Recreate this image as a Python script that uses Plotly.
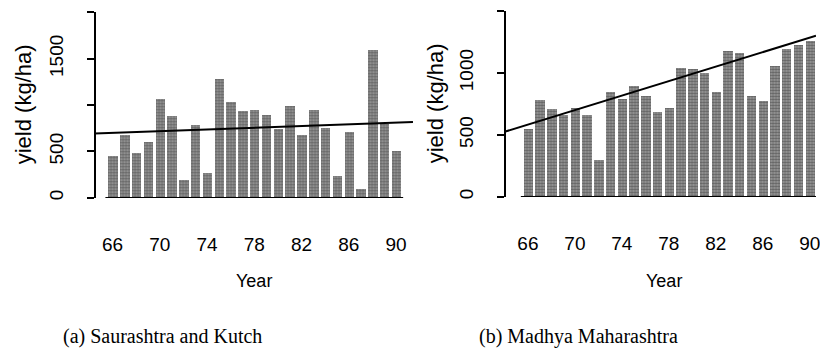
import plotly.graph_objects as go

# ---- data ----
years = list(range(66, 91))
yield_saurashtra = [453, 675, 482, 603, 1061, 882, 186, 782, 261, 1275, 1032, 936, 946,
                    889, 740, 989, 675, 946, 750, 232, 704, 96, 1596, 793, 500]
yield_madhya = [548, 785, 710, 658, 720, 665, 298, 845, 788, 898, 812, 685, 718,
                1044, 1034, 1000, 846, 1180, 1165, 815, 775, 1060, 1190, 1226, 1262]
# trend lines: value at the left and right edge of each panel's x range
trend_years_a = [64.48, 91.43]
trend_vals_a = [693, 817]
trend_years_b = [64.01, 90.53]
trend_vals_b = [525, 1300]
xtick_years = [66, 70, 74, 78, 82, 86, 90]
ytick_vals_a = [0, 500, 1000, 1500, 2000]
ytick_text_a = ["0", "500", "", "1500", ""]
ytick_vals_b = [0, 500, 1000, 1500]
ytick_text_b = ["0", "500", "1000", ""]

W, H = 820, 361
SANS = "Liberation Sans, Arial, Helvetica, sans-serif"
SERIF = "Liberation Serif, Times New Roman, serif"

def px_x(p):
    return p / W

def px_y(p):
    return (H - p) / H

bar_marker = dict(
    color="#7c7c7c",
    line=dict(width=0),
    pattern=dict(shape=".", fgcolor="#202020", bgcolor="#a2a2a2", size=3, solidity=0.55),
)

fig = go.Figure()
fig.add_trace(go.Bar(x=years, y=yield_saurashtra, width=0.8, marker=bar_marker,
                     xaxis="x", yaxis="y", showlegend=False))
fig.add_trace(go.Scatter(x=trend_years_a, y=trend_vals_a, mode="lines",
                         line=dict(color="black", width=2), xaxis="x", yaxis="y",
                         showlegend=False, cliponaxis=True))
fig.add_trace(go.Bar(x=years, y=yield_madhya, width=0.8, marker=bar_marker,
                     xaxis="x2", yaxis="y2", showlegend=False))
fig.add_trace(go.Scatter(x=trend_years_b, y=trend_vals_b, mode="lines",
                         line=dict(color="black", width=2), xaxis="x2", yaxis="y2",
                         showlegend=False, cliponaxis=True))

xcommon = dict(showgrid=False, zeroline=False, showline=False, ticks="",
               tickvals=xtick_years, ticktext=[str(v) for v in xtick_years],
               tickfont=dict(family=SANS, size=19, color="black"),
               ticklabelstandoff=33, ticklabeloverflow="allow")
ycommon = dict(showgrid=False, zeroline=False, showline=True, linecolor="black",
               linewidth=1.5, ticks="outside", ticklen=7, tickwidth=1.5,
               tickcolor="black", tickangle=-90,
               tickfont=dict(family=SANS, size=19, color="black"),
               ticklabelstandoff=16, ticklabeloverflow="allow")

fig.update_layout(
    width=W, height=H, margin=dict(l=0, r=0, t=0, b=0),
    paper_bgcolor="white", plot_bgcolor="white", bargap=0,
    xaxis=dict(domain=[px_x(95), px_x(415)], range=[trend_years_a[0], trend_years_a[1]],
               anchor="y", **xcommon),
    yaxis=dict(domain=[px_y(199), px_y(12.3)], range=[0, 2000], anchor="free",
               position=px_x(95), tickvals=ytick_vals_a, ticktext=ytick_text_a, **ycommon),
    xaxis2=dict(domain=[px_x(507), 1.0], range=[trend_years_b[0], trend_years_b[1]],
                anchor="y2", **xcommon),
    yaxis2=dict(domain=[px_y(198), px_y(11)], range=[0, 1500], anchor="free",
                position=px_x(507), tickvals=ytick_vals_b, ticktext=ytick_text_b, **ycommon),
)

# baselines under bars
fig.add_shape(type="line", xref="x", yref="y", x0=years[0] - 0.6, x1=years[-1] + 0.6,
              y0=0, y1=0, line=dict(color="black", width=2))
fig.add_shape(type="line", xref="x2", yref="y2", x0=years[0] - 0.6, x1=years[-1] + 0.6,
              y0=0, y1=0, line=dict(color="black", width=2))

ann = []
for xc, yc in [(24, 105), (438, 104)]:
    ann.append(dict(text="yield (kg/ha)", x=px_x(xc), y=px_y(yc), xref="paper", yref="paper",
                    showarrow=False, textangle=-90, xanchor="center", yanchor="middle",
                    font=dict(family=SANS, size=22, color="black")))
for xc in [255, 667]:
    ann.append(dict(text="Year", x=px_x(xc), y=px_y(283), xref="paper", yref="paper",
                    showarrow=False, xanchor="center", yanchor="middle",
                    font=dict(family=SANS, size=18, color="black")))
for xc, t in [(163, "(a) Saurashtra and Kutch"), (581, "(b) Madhya Maharashtra")]:
    ann.append(dict(text=t, x=px_x(xc), y=px_y(338), xref="paper", yref="paper",
                    showarrow=False, xanchor="center", yanchor="middle",
                    font=dict(family=SERIF, size=20, color="black")))
fig.update_layout(annotations=ann)

fig.write_html("out.html")
